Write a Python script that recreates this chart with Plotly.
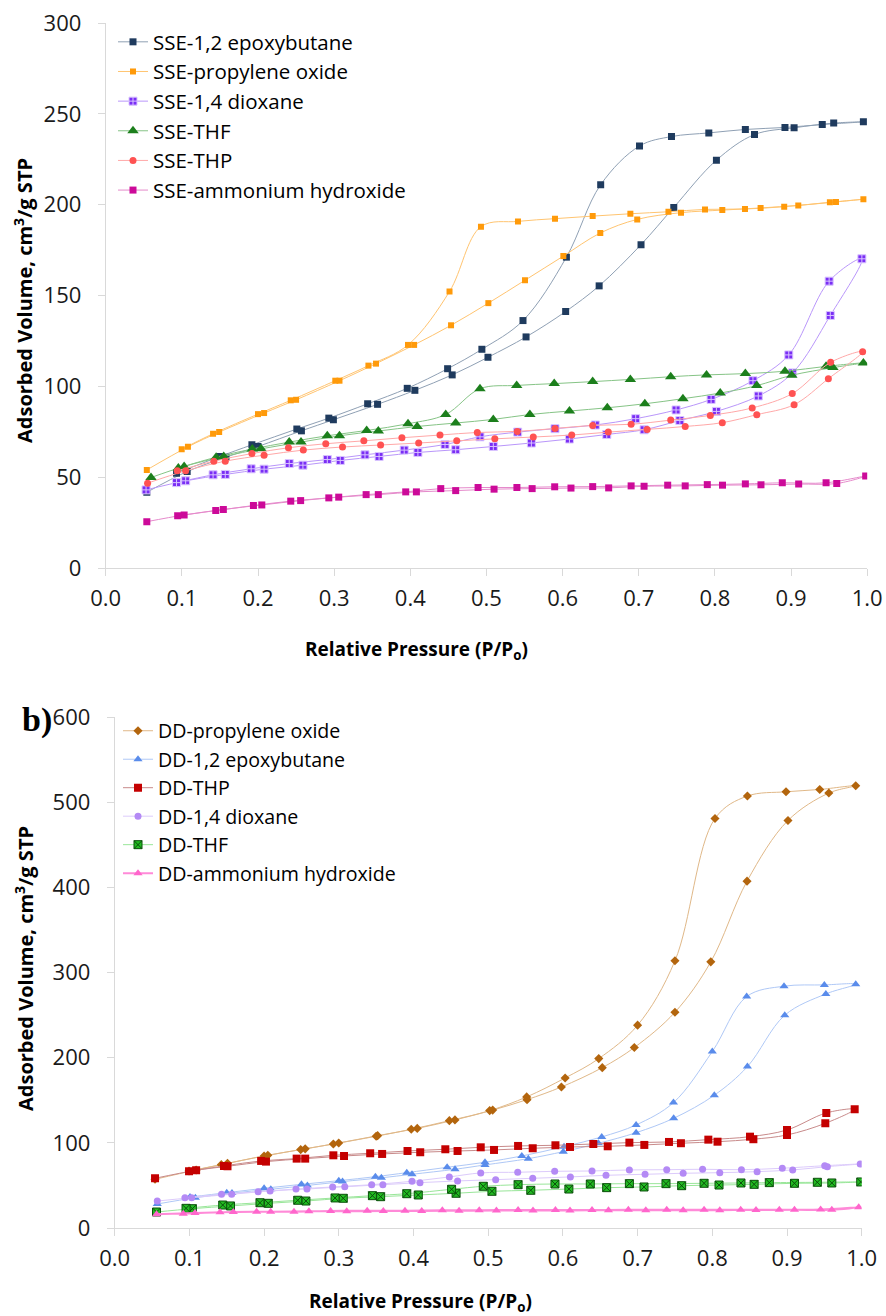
import plotly.graph_objects as go

# ---------------- data: (a) SSE samples ----------------
sse_epoxybutane_p = [0.054, 0.107, 0.158, 0.200, 0.257, 0.299, 0.357, 0.406, 0.455, 0.502, 0.552, 0.604, 0.648, 0.703, 0.746, 0.802, 0.852, 0.904, 0.956, 0.995,
                     0.941, 0.892, 0.840, 0.792, 0.743, 0.701, 0.650, 0.605, 0.548, 0.494, 0.449, 0.396, 0.344, 0.293, 0.251, 0.192, 0.150, 0.093]
sse_epoxybutane_v = [41.7, 53.1, 61.0, 66.9, 75.5, 81.6, 90.1, 97.8, 106.3, 116.0, 127.2, 141.2, 155.3, 178.0, 198.5, 224.5, 238.6, 242.3, 244.9, 245.6,
                     244.1, 242.5, 241.4, 239.5, 237.5, 232.3, 211.0, 171.1, 136.2, 120.4, 109.7, 98.9, 90.4, 82.5, 76.5, 67.8, 61.4, 52.2]

sse_propylene_p = [0.054, 0.108, 0.149, 0.208, 0.250, 0.307, 0.355, 0.405, 0.4535, 0.5025, 0.5506, 0.601, 0.6495, 0.698, 0.7555, 0.8097, 0.860, 0.9095, 0.959, 0.995,
                   0.951, 0.891, 0.8395, 0.787, 0.739, 0.689, 0.6395, 0.590, 0.5414, 0.4928, 0.4515, 0.397, 0.345, 0.3015, 0.243, 0.200, 0.141, 0.0998]
sse_propylene_v = [54.0, 66.7, 74.8, 85.3, 92.6, 103.1, 112.5, 122.8, 133.6, 145.8, 158.4, 171.7, 184.4, 191.9, 195.6, 197.0, 198.2, 199.6, 201.5, 203.0,
                   201.3, 198.9, 197.6, 197.4, 196.1, 195.0, 193.7, 192.3, 190.8, 187.9, 152.2, 122.8, 111.4, 103.1, 92.3, 84.7, 73.9, 65.4]

sse_dioxane_p = [0.053, 0.105, 0.157, 0.208, 0.259, 0.308, 0.359, 0.410, 0.4596, 0.509, 0.559, 0.609, 0.658, 0.707, 0.754, 0.802, 0.857, 0.902, 0.9515, 0.993,
                 0.950, 0.897, 0.850, 0.795, 0.749, 0.696, 0.643, 0.590, 0.541, 0.4915, 0.4456, 0.392, 0.3405, 0.291, 0.241, 0.191, 0.141, 0.093]
sse_dioxane_v = [43.0, 48.0, 51.5, 54.4, 56.6, 59.2, 61.4, 63.6, 65.1, 66.9, 68.8, 71.0, 73.5, 76.1, 81.2, 86.2, 94.7, 107.4, 139.0, 170.2,
                 157.9, 117.3, 103.1, 92.8, 87.0, 82.2, 78.7, 76.7, 74.8, 72.2, 68.0, 64.9, 62.3, 59.7, 57.5, 54.6, 51.3, 47.0]

sse_thf_p = [0.0595, 0.103, 0.155, 0.204, 0.2565, 0.307, 0.358, 0.409, 0.4596, 0.509, 0.557, 0.609, 0.6587, 0.708, 0.758, 0.807, 0.855, 0.901, 0.955, 0.995,
             0.946, 0.892, 0.840, 0.789, 0.742, 0.689, 0.6395, 0.589, 0.5397, 0.4915, 0.4465, 0.397, 0.3427, 0.291, 0.241, 0.1925, 0.145, 0.0954]
sse_thf_v = [49.8, 55.9, 61.4, 65.6, 69.3, 72.8, 75.4, 77.9, 79.8, 81.8, 84.5, 86.4, 88.2, 90.4, 93.2, 96.3, 100.4, 106.1, 110.3, 112.9,
             111.0, 108.3, 107.0, 106.3, 105.3, 103.8, 102.6, 101.5, 100.5, 98.7, 84.5, 79.4, 75.7, 72.8, 69.3, 65.5, 61.0, 55.0]

sse_thp_p = [0.055, 0.105, 0.157, 0.208, 0.2595, 0.311, 0.361, 0.411, 0.461, 0.511, 0.5615, 0.612, 0.660, 0.711, 0.761, 0.8097, 0.855, 0.904, 0.949, 0.994,
             0.952, 0.9016, 0.849, 0.794, 0.742, 0.690, 0.6395, 0.590, 0.5405, 0.488, 0.439, 0.389, 0.339, 0.289, 0.240, 0.192, 0.142, 0.094]
sse_thp_v = [46.7, 53.5, 58.8, 62.1, 64.9, 66.6, 67.7, 68.8, 70.0, 71.1, 72.1, 73.2, 74.8, 76.3, 77.9, 80.0, 84.4, 89.9, 104.2, 119.1,
             113.2, 96.0, 88.1, 84.0, 81.4, 79.1, 78.5, 76.8, 75.2, 74.6, 73.2, 71.7, 70.0, 68.4, 66.2, 63.0, 58.8, 53.5]

sse_ammonium_p = [0.054, 0.103, 0.1545, 0.205, 0.256, 0.306, 0.358, 0.408, 0.4596, 0.510, 0.560, 0.611, 0.6605, 0.707, 0.761, 0.810, 0.8605, 0.910, 0.960, 0.998,
                  0.946, 0.8885, 0.840, 0.790, 0.738, 0.690, 0.6395, 0.5896, 0.540, 0.489, 0.440, 0.394, 0.342, 0.293, 0.243, 0.194, 0.1445, 0.0945]
sse_ammonium_v = [25.5, 29.2, 32.2, 34.7, 37.1, 39.0, 40.4, 41.9, 42.6, 43.4, 43.7, 44.0, 44.1, 45.0, 45.2, 45.6, 45.8, 46.2, 46.5, 50.6,
                  46.9, 46.9, 46.3, 45.9, 45.6, 45.2, 44.8, 44.7, 44.3, 44.3, 43.7, 41.9, 40.4, 38.6, 36.8, 34.4, 31.6, 28.7]

# ---------------- data: (b) DD samples ----------------
dd_propylene_p = [0.054, 0.109, 0.151, 0.205, 0.255, 0.2999, 0.352, 0.405, 0.4555, 0.506, 0.552, 0.598, 0.6527, 0.6956, 0.750, 0.798, 0.8465, 0.9013, 0.956, 0.992,
                  0.9438, 0.8987, 0.847, 0.8036, 0.750, 0.700, 0.648, 0.603, 0.5515, 0.502, 0.448, 0.397, 0.350, 0.2927, 0.249, 0.200, 0.1427, 0.0995]
dd_propylene_v = [57.2, 68.2, 76.0, 85.5, 93.0, 99.9, 108.5, 117.0, 127.0, 138.5, 150.8, 165.7, 188.4, 212.0, 253.5, 312.7, 407.5, 478.8, 511.0, 519.6,
                  515.2, 512.5, 507.5, 481.1, 313.9, 238.3, 199.0, 176.3, 154.0, 137.9, 126.1, 116.0, 107.8, 98.7, 92.1, 84.6, 74.4, 67.0]

dd_epoxybutane_p = [0.057, 0.108, 0.157, 0.209, 0.258, 0.305, 0.357, 0.398, 0.4556, 0.4957, 0.5537, 0.6005, 0.6475, 0.698, 0.7483, 0.8027, 0.847, 0.897, 0.952, 0.992,
                    0.950, 0.896, 0.846, 0.800, 0.748, 0.698, 0.652, 0.6015, 0.545, 0.4957, 0.445, 0.391, 0.349, 0.300, 0.250, 0.200, 0.150, 0.1008]
dd_epoxybutane_v = [28.2, 35.6, 41.0, 45.5, 50.0, 54.5, 59.0, 63.1, 69.0, 74.1, 81.5, 89.7, 99.5, 112.0, 128.9, 156.0, 189.6, 250.0, 275.0, 286.5,
                    285.6, 284.1, 271.9, 207.3, 147.3, 121.1, 107.0, 95.6, 84.6, 77.2, 71.3, 65.0, 60.3, 55.6, 51.3, 46.7, 41.5, 36.4]

dd_thp_p = [0.054, 0.109, 0.151, 0.2025, 0.255, 0.307, 0.358, 0.409, 0.459, 0.5078, 0.5596, 0.6095, 0.660, 0.709, 0.758, 0.807, 0.855, 0.900, 0.9513, 0.9906,
            0.9526, 0.900, 0.8505, 0.7947, 0.742, 0.689, 0.6407, 0.590, 0.540, 0.490, 0.4426, 0.392, 0.342, 0.2927, 0.2436, 0.196, 0.1463, 0.0995]
dd_thp_v = [58.4, 67.8, 72.5, 78.0, 81.5, 84.6, 87.0, 89.0, 90.5, 91.7, 93.7, 95.2, 96.0, 97.6, 99.6, 101.4, 104.3, 109.3, 123.0, 139.5,
            135.2, 115.2, 107.3, 103.8, 101.1, 100.3, 98.7, 97.2, 96.4, 94.8, 92.5, 90.5, 87.8, 85.4, 81.5, 78.8, 72.9, 66.6]

dd_dioxane_p = [0.057, 0.103, 0.1566, 0.208, 0.2574, 0.308, 0.359, 0.4087, 0.459, 0.510, 0.5596, 0.610, 0.6577, 0.710, 0.761, 0.810, 0.860, 0.9076, 0.954, 0.998,
                0.9505, 0.8937, 0.839, 0.787, 0.739, 0.689, 0.639, 0.589, 0.5395, 0.490, 0.448, 0.398, 0.344, 0.2918, 0.2427, 0.192, 0.143, 0.094]
dd_dioxane_v = [31.7, 35.6, 39.6, 43.5, 45.8, 48.5, 50.9, 53.3, 55.3, 56.8, 58.4, 60.0, 61.9, 63.1, 64.3, 65.0, 66.2, 68.2, 72.1, 75.2,
                73.2, 70.2, 68.5, 69.0, 68.5, 68.2, 67.0, 66.6, 65.5, 64.7, 60.0, 54.9, 50.9, 48.2, 45.8, 42.7, 39.6, 35.6]

dd_thf_p = [0.056, 0.104, 0.155, 0.2056, 0.256, 0.306, 0.356, 0.4064, 0.457, 0.505, 0.557, 0.608, 0.6586, 0.7086, 0.759, 0.809, 0.856, 0.910, 0.960, 0.9987,
            0.9406, 0.8763, 0.8384, 0.789, 0.738, 0.689, 0.6367, 0.5894, 0.540, 0.4934, 0.451, 0.391, 0.345, 0.295, 0.245, 0.1945, 0.1446, 0.0955]
dd_thf_v = [18.8, 22.7, 25.9, 29.0, 31.7, 34.9, 36.8, 38.8, 40.8, 43.1, 44.3, 45.8, 47.4, 48.2, 49.7, 50.5, 51.3, 52.5, 52.9, 54.1,
            53.7, 53.3, 52.9, 52.5, 52.1, 52.1, 51.7, 51.7, 50.9, 49.0, 45.5, 40.3, 38.0, 35.3, 32.6, 29.7, 27.0, 23.1]

dd_ammonium_p = [0.056, 0.1075, 0.1588, 0.2088, 0.260, 0.3106, 0.3596, 0.411, 0.461, 0.511, 0.560, 0.6095, 0.661, 0.711, 0.761, 0.810, 0.8585, 0.910, 0.960, 0.996,
                 0.945, 0.8897, 0.838, 0.789, 0.739, 0.6876, 0.639, 0.590, 0.540, 0.488, 0.4386, 0.3886, 0.338, 0.289, 0.240, 0.190, 0.141, 0.0918]
dd_ammonium_v = [16.1, 17.6, 18.8, 19.2, 19.6, 19.6, 20.0, 20.0, 20.3, 20.5, 20.6, 20.7, 20.8, 20.9, 21.0, 21.0, 21.1, 21.3, 21.5, 24.3,
                 21.6, 21.5, 21.5, 21.4, 21.3, 21.3, 21.2, 21.2, 21.1, 21.0, 20.8, 20.3, 20.3, 20.0, 19.2, 19.2, 18.4, 16.8]

x_ticks = [0.0, 0.1, 0.2, 0.3, 0.4, 0.5, 0.6, 0.7, 0.8, 0.9, 1.0]
x_title = "<b>Relative Pressure (P/P<sub>o</sub>)</b>"
y_title = "<b>Adsorbed Volume, cm<sup>3</sup>/g STP</b>"

FONT = "Open Sans"
W, H = 886, 1316

top_series = [
    ("SSE-1,2 epoxybutane", sse_epoxybutane_p, sse_epoxybutane_v, "square", 7, "#1F3B5E", "#8FA0B4", 1, None),
    ("SSE-propylene oxide", sse_propylene_p, sse_propylene_v, "square", 6, "#FF9A0A", "#FFC470", 1, None),
    ("SSE-1,4 dioxane", sse_dioxane_p, sse_dioxane_v, "square-cross", 8, "#7A2EF5", "#B996FA", 1, "#D9C4FF"),
    ("SSE-THF", sse_thf_p, sse_thf_v, "triangle-up", 10, "#1C7F1C", "#86C486", 1, None),
    ("SSE-THP", sse_thp_p, sse_thp_v, "circle", 7, "#FF5252", "#FFA8A8", 1, None),
    ("SSE-ammonium hydroxide", sse_ammonium_p, sse_ammonium_v, "square", 7, "#CC0A99", "#E58ACB", 1, None),
]
bottom_series = [
    ("DD-propylene oxide", dd_propylene_p, dd_propylene_v, "diamond", 7, "#B3650D", "#E0B888", 1, None),
    ("DD-1,2 epoxybutane", dd_epoxybutane_p, dd_epoxybutane_v, "triangle-up", 8, "#5A8CEB", "#AFC8F6", 1, None),
    ("DD-THP", dd_thp_p, dd_thp_v, "square", 8, "#C40000", "#C88A8A", 1, None),
    ("DD-1,4 dioxane", dd_dioxane_p, dd_dioxane_v, "circle", 7, "#B48AF5", "#DCCBFB", 1, None),
    ("DD-THF", dd_thf_p, dd_thf_v, "square-x", 8, "#22BB22", "#99E699", 1, "#0B4F0B"),
    ("DD-ammonium hydroxide", dd_ammonium_p, dd_ammonium_v, "triangle-up", 8, "#FF66CC", "#FF8AD8", 2, None),
]

fig = go.Figure()


def add_series(series, xa, ya, leg, grp):
    for i, (name, p, v, sym, size, mc, lc, lw, mlc) in enumerate(series):
        fig.add_trace(go.Scatter(
            x=p, y=v, name=name, mode="lines+markers", xaxis=xa, yaxis=ya,
            legend=leg, legendgroup="%s%d" % (grp, i),
            line=dict(color=lc, width=lw, shape="spline", smoothing=1.0),
            marker=dict(symbol=sym, size=size, color=mc,
                        line=dict(color=mlc if mlc else mc, width=1 if mlc else 0)),
        ))


add_series(top_series, "x", "y", "legend", "t")
add_series(bottom_series, "x2", "y2", "legend2", "b")

axis_common = dict(
    showgrid=False, zeroline=False, showline=True, linecolor="#D9D9D9", linewidth=1,
    ticks="outside", ticklen=7, tickcolor="#D9D9D9", tickwidth=1, automargin=False,
    tickfont=dict(family=FONT, size=22, color="#1A1A1A"),
)
x_extra = dict(range=[0, 1], tickvals=x_ticks, tickformat=".1f", ticklabelstandoff=4)
y_extra = dict(ticklabelstandoff=12)


def px_x(v):
    return v / W


def px_y(v):
    return 1 - v / H


ann = [
    dict(text=x_title, x=px_x(416), y=px_y(650), font=dict(family=FONT, size=19, color="#000")),
    dict(text=x_title, x=px_x(420), y=px_y(1302), font=dict(family=FONT, size=19, color="#000")),
    dict(text=y_title, x=px_x(24), y=px_y(301), textangle=-90, font=dict(family=FONT, size=20, color="#000")),
    dict(text=y_title, x=px_x(25), y=px_y(969), textangle=-90, font=dict(family=FONT, size=20, color="#000")),
    dict(text="<b>b)</b>", x=px_x(37), y=px_y(720), font=dict(family="Liberation Serif", size=34, color="#000")),
]
for a in ann:
    a.update(xref="paper", yref="paper", xanchor="center", yanchor="middle", showarrow=False)

fig.update_layout(
    width=W, height=H,
    margin=dict(l=0, r=0, t=0, b=0, autoexpand=False),
    paper_bgcolor="white", plot_bgcolor="white",
    showlegend=True,
    xaxis=dict(domain=[px_x(105.7), px_x(867.2)], anchor="y", **x_extra, **axis_common),
    yaxis=dict(domain=[px_y(568), px_y(23)], anchor="x", range=[0, 300], dtick=50, **y_extra, **axis_common),
    xaxis2=dict(domain=[px_x(114.7), px_x(861.7)], anchor="y2", **x_extra, **axis_common),
    yaxis2=dict(domain=[px_y(1228), px_y(717.3)], anchor="x2", range=[0, 600], dtick=100, **y_extra, **axis_common),
    legend=dict(x=px_x(113), y=px_y(22), xanchor="left", yanchor="top",
                font=dict(family=FONT, size=20.5, color="#000"),
                bgcolor="rgba(0,0,0,0)", tracegroupgap=0, itemsizing="trace"),
    legend2=dict(x=px_x(118), y=px_y(711.5), xanchor="left", yanchor="top",
                 font=dict(family=FONT, size=19.6, color="#000"),
                 bgcolor="rgba(0,0,0,0)", tracegroupgap=0, itemsizing="trace"),
    annotations=ann,
)

fig.write_html("out.html")
